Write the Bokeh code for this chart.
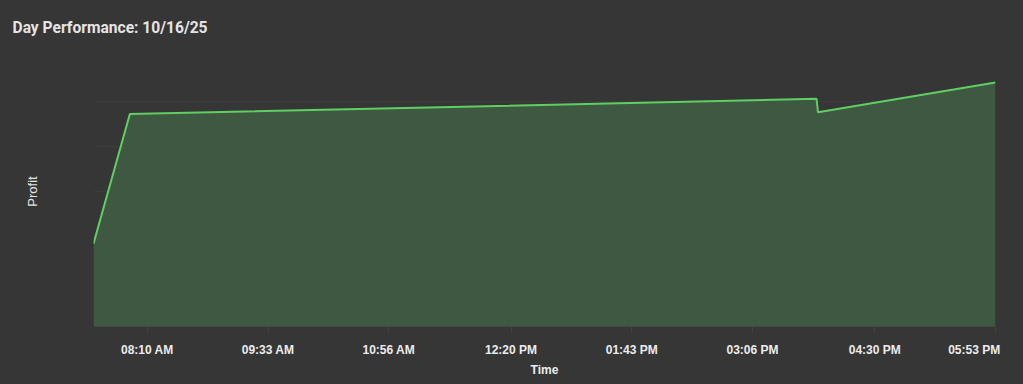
import pandas as pd
from bokeh.plotting import figure
from bokeh.models import FixedTicker, DatetimeTickFormatter, CustomJSTickFormatter, Range1d
from bokeh.embed import file_html
from bokeh.resources import INLINE

# ---- data ----
day = "2025-10-16"
trade_times = ["07:33", "07:58", "15:50", "15:51", "17:53"]
profit = [92, 236, 253, 238, 271]
tick_times = ["08:10", "09:33", "10:56", "12:20", "13:43", "15:06", "16:30", "17:53"]
tick_labels = ["08:10 AM", "09:33 AM", "10:56 AM", "12:20 PM", "01:43 PM", "03:06 PM", "04:30 PM", "05:53 PM"]
title_text = "Day Performance: 10/16/25"

x = pd.to_datetime([f"{day} {t}" for t in trade_times])
ticks = pd.to_datetime([f"{day} {t}" for t in tick_times])
tick_ms = [float(t.value // 10**6) for t in ticks]

BG = "#363636"
LINE = "#5fcf62"
FILL = "#3f5841"

p = figure(width=1023, height=384, x_axis_type="datetime", output_backend="svg",
           toolbar_location=None, background_fill_color=BG, border_fill_color=BG,
           min_border_left=93, min_border_right=28,
           min_border_top=56, min_border_bottom=58)
p.styles = {"background-color": BG}
p.outline_line_color = None
p.x_range = Range1d(x[0], x[-1])
p.y_range = Range1d(0, 300)

p.varea(x=x, y1=0, y2=profit, fill_color=FILL)
p.line(x=x, y=profit, line_color=LINE, line_width=2)

# title
p.title.text = title_text
p.title.text_color = "#e4e4e4"
p.title.text_font = "Roboto"
p.title.text_font_size = "15.6px"
p.title.text_font_style = "bold"
p.title.align = "left"
p.title.vertical_align = "top"
p.title.offset = -81
p.title.standoff = 35

# x axis
xa = p.xaxis[0]
xa.ticker = FixedTicker(ticks=tick_ms)
xa.formatter = DatetimeTickFormatter(minutes="%I:%M %p", hourmin="%I:%M %p", hours="%I:%M %p")
overrides = {ms: lab for ms, lab in zip(tick_ms, tick_labels)}
overrides[tick_ms[-1]] = tick_labels[-1] + "\u00a0" * 7
xa.major_label_overrides = overrides
xa.major_label_text_color = "#ececec"
xa.major_label_text_font = "Liberation Sans"
xa.major_label_text_font_size = "12px"
xa.major_label_text_font_style = "bold"
xa.major_label_standoff = 10
xa.major_tick_line_color = "rgba(255,255,255,0.06)"
xa.major_tick_out = 6
xa.major_tick_in = 0
xa.minor_tick_line_color = None
xa.axis_line_color = "rgba(255,255,255,0.05)"
xa.axis_label = "Time"
xa.axis_label_text_color = "#ececec"
xa.axis_label_text_font = "Liberation Sans"
xa.axis_label_text_font_size = "12px"
xa.axis_label_text_font_style = "bold"
xa.axis_label_standoff = 3

# y axis
ya = p.yaxis[0]
ya.ticker = FixedTicker(ticks=[0, 50, 100, 150, 200, 250, 300])
ya.formatter = CustomJSTickFormatter(code="return ''")
ya.major_tick_line_color = None
ya.minor_tick_line_color = None
ya.axis_line_color = None
ya.major_label_standoff = 0
ya.axis_label = "Profit"
ya.axis_label_text_color = "#e4e4e4"
ya.axis_label_text_font = "Liberation Sans"
ya.axis_label_text_font_size = "13px"
ya.axis_label_text_font_style = "normal"
ya.axis_label_standoff = 48

p.xgrid.grid_line_color = None
p.ygrid.grid_line_color = "rgba(255,255,255,0.04)"
p.ygrid.ticker = ya.ticker

open("out.html", "w").write(file_html(p, INLINE))
